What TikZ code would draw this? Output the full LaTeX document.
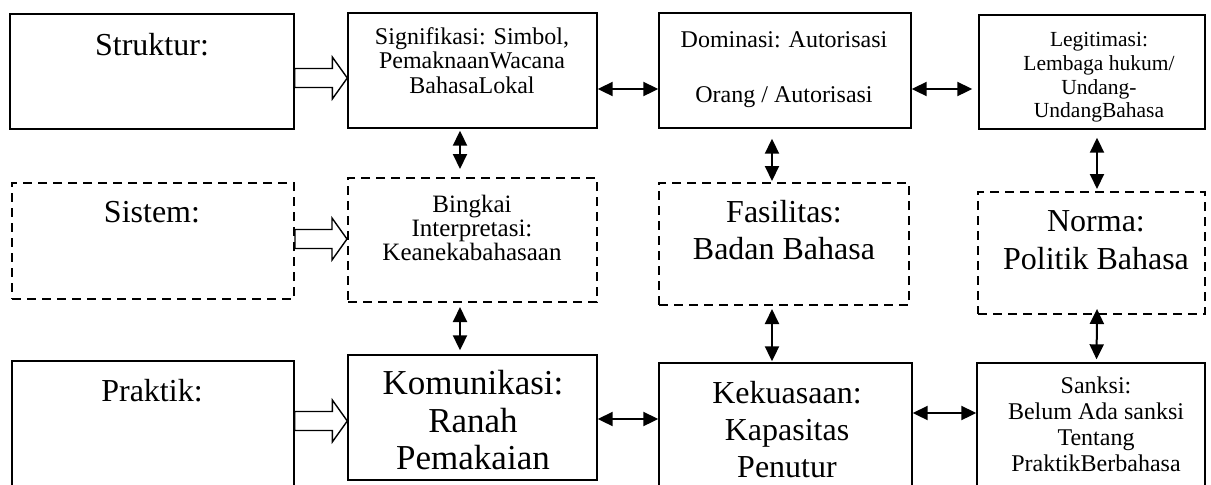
\documentclass[tikz,border=0pt]{standalone}
\usepackage{fontspec}
\setmainfont{Liberation Serif}
\usetikzlibrary{arrows.meta,calc}

\tikzset{
  box/.style={draw, line width=0.7pt, inner sep=0pt},
  dbox/.style={box, line width=1pt, dash pattern=on 4.5pt off 3pt},
  txt/.style={inner sep=0pt, anchor=north, align=center},
  dbl/.style={{Triangle[length=7.5pt,width=7pt]}-{Triangle[length=7.5pt,width=7pt]}, line width=1pt},
  hollow/.style={draw, fill=white, line width=0.7pt, line join=miter},
}

% hollow block arrow from #1 to #2 (horizontal)
\newcommand{\hollowarrow}[2]{%
  \draw[hollow] let \p1=(#1), \p2=(#2) in
    (\x1,\y1+4.75pt) -- (\x2-7.5pt,\y1+4.75pt) -- (\x2-7.5pt,\y1+10.5pt) -- (\x2,\y1)
    -- (\x2-7.5pt,\y1-10.5pt) -- (\x2-7.5pt,\y1-4.75pt) -- (\x1,\y1-4.75pt) -- cycle;}

\begin{document}
\begin{tikzpicture}[x=0.5pt,y=-0.5pt]
        \clip (0,0) rectangle (1211,484);

        % Row 1: Struktur
        \node[box, minimum width=142pt, minimum height=57.5pt] (struk) at (152,71.5) {};
        \node[box, minimum width=124.5pt, minimum height=57.5pt] (sig) at (472.5,70.5) {};
        \node[box, minimum width=126pt, minimum height=57.5pt] (dom) at (785,70.5) {};
        \node[box, minimum width=113pt, minimum height=57pt] (legit) at (1092,72) {};

        % Row 2: Sistem (dashed)
        \node[dbox, minimum width=141pt, minimum height=58pt] (sist) at (153,241) {};
        \node[dbox, minimum width=124.5pt, minimum height=62pt] (bing) at (472.5,240) {};
        \node[dbox, minimum width=125pt, minimum height=61pt] (fas) at (784,244) {};
        \node[dbox, minimum width=113.5pt, minimum height=61pt] (norma) at (1091.5,253) {};

        % Row 3: Praktik
        \node[box, minimum width=141pt, minimum height=64.5pt] (prak) at (153,425.5) {};
        \node[box, minimum width=124.5pt, minimum height=62.5pt] (kom) at (472.5,417.5) {};
        \node[box, minimum width=126.5pt, minimum height=63.5pt] (kek) at (785.5,426.5) {};
        \node[box, minimum width=114pt, minimum height=63.5pt] (sank) at (1091,426.5) {};

        % Texts
        \node[txt, font=\fontsize{16}{18.5}\selectfont] (struktxt) at (152,33) {Struktur:};
        \node[txt, font=\fontsize{16}{18.5}\selectfont] (sisttxt) at (152,201) {Sistem:};
        \node[txt, font=\fontsize{16}{18.5}\selectfont] (praktxt) at (152,379) {Praktik:};
        \node[txt, font=\fontsize{12}{12.25}\selectfont] (sigtxt) at (472,27) {Signifikasi: Simbol,\\ PemaknaanWacana\\ BahasaLokal};
        \node[txt, font=\fontsize{12}{13.75}\selectfont] (domtxt) at (784,31) {Dominasi: Autorisasi\\[13.75pt] Orang / Autorisasi};
        \node[txt, font=\fontsize{10.75}{11.85}\selectfont] (legtxt) at (1099,32) {Legitimasi:\\ Lembaga hukum/\\ Undang-\\ UndangBahasa};
        \node[txt, font=\fontsize{12.5}{12}\selectfont] (bingtxt) at (472,195) {Bingkai\\ Interpretasi:\\ Keanekabahasaan};
        \node[txt, font=\fontsize{16}{18.5}\selectfont] (fastxt) at (784,200) {Fasilitas:\\ Badan Bahasa};
        \node[txt, font=\fontsize{16}{19}\selectfont] (normtxt) at (1096,210) {Norma:\\ Politik Bahasa};
        \node[txt, font=\fontsize{17.5}{18.75}\selectfont] (komtxt) at (473,370) {Komunikasi:\\ Ranah\\ Pemakaian};
        \node[txt, font=\fontsize{16}{18.5}\selectfont] (kektxt) at (787,381) {Kekuasaan:\\ Kapasitas\\ Penutur};
        \node[txt, font=\fontsize{12}{13}\selectfont] (sanktxt) at (1096,376) {Sanksi:\\ Belum Ada sanksi\\ Tentang\\ PraktikBerbahasa};

        % Block arrows
        \hollowarrow{[yshift=-3.25pt]struk.east}{sig.west}
        \hollowarrow{[yshift=1pt]sist.east}{bing.west}
        \hollowarrow{[yshift=2.25pt]prak.east}{kom.west}

        % Horizontal links
        \draw[dbl] ([yshift=-9.25pt]sig.east) -- ([yshift=-9.25pt]dom.west);
        \draw[dbl, shorten >=3pt] ([yshift=-9.25pt]dom.east) -- ([yshift=-8.5pt]legit.west);
        \draw[dbl] ([yshift=-0.75pt]kom.east) -- ([yshift=3.75pt]kek.west);
        \draw[dbl] ([yshift=6.75pt]kek.east) -- ([yshift=6.75pt]sank.west);

        % Vertical links
        \draw[dbl, shorten <=1pt, shorten >=4pt] ([xshift=-6.25pt]sig.south) -- ([xshift=-6.25pt]bing.north);
        \draw[dbl, shorten <=5pt, shorten >=0.5pt] ([xshift=-6.5pt]dom.south) -- ([xshift=-6pt]fas.north);
        \draw[dbl, shorten <=4pt, shorten >=1pt] ([xshift=2.5pt]legit.south) -- ([xshift=2.75pt]norma.north);
        \draw[dbl, shorten <=2pt, shorten >=2pt] ([xshift=-6.25pt]bing.south) -- ([xshift=-6.25pt]kom.north);
        \draw[dbl, shorten <=1.5pt, shorten >=0.5pt] ([xshift=-6pt]fas.south) -- ([xshift=-6.75pt]kek.north);
        \draw[dbl, shorten <=-3pt, shorten >=1.5pt] ([xshift=2.75pt]norma.south) -- ([xshift=2.75pt]sank.north);
\end{tikzpicture}
\end{document}
